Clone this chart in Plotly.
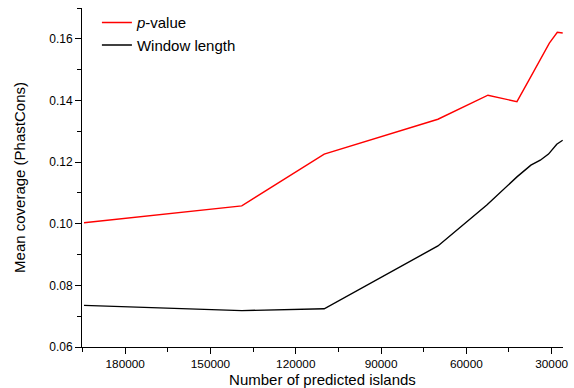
import plotly.graph_objects as go

# Data
x_pvalue = [194500, 139000, 110000, 70000, 52400, 42200, 37500, 30800, 28000, 26100]
y_pvalue = [0.1003, 0.1058, 0.1226, 0.1339, 0.1417, 0.1396, 0.1474, 0.1586, 0.1621, 0.1619]

x_window = [194500, 139000, 110000, 70000, 52800, 42200, 37300, 34000, 31100, 28200, 26100]
y_window = [0.0735, 0.0718, 0.0724, 0.0928, 0.1061, 0.1152, 0.1190, 0.1206, 0.1226, 0.1258, 0.1271]

x_ticks = [180000, 150000, 120000, 90000, 60000, 30000]
y_ticks = [0.06, 0.08, 0.10, 0.12, 0.14, 0.16]

font_family = "Liberation Sans, Arial, Helvetica, sans-serif"

fig = go.Figure()
fig.add_trace(go.Scatter(x=x_pvalue, y=y_pvalue, mode="lines", name="<i>p</i>-value",
                         line=dict(color="#ff0000", width=1.4)))
fig.add_trace(go.Scatter(x=x_window, y=y_window, mode="lines", name="Window length",
                         line=dict(color="#000000", width=1.4)))

fig.update_layout(
    width=574, height=388,
    margin=dict(l=82, r=11, t=7, b=41),
    paper_bgcolor="white", plot_bgcolor="white",
    font=dict(family=font_family, size=12, color="black"),
    showlegend=True,
    legend=dict(x=0.031, y=1.002, xanchor="left", yanchor="top", bgcolor="rgba(0,0,0,0)",
                font=dict(size=15), tracegroupgap=0, itemwidth=30),
)
fig.update_xaxes(
    range=[195200, 26000], tickvals=x_ticks, ticktext=[str(v) for v in x_ticks],
    showline=True, linecolor="black", linewidth=1, showgrid=False, zeroline=False,
    ticks="outside", ticklen=6, tickcolor="black", tickfont=dict(size=11.8),
    minor=dict(dtick=15000, tick0=0, ticks="outside", ticklen=4, tickcolor="black", showgrid=False),
    title=dict(text="Number of predicted islands", font=dict(size=15), standoff=3),
    automargin=False,
)
fig.update_yaxes(
    range=[0.06, 0.17], tickvals=y_ticks, ticktext=[f"{v:.2f}" for v in y_ticks],
    showline=True, linecolor="black", linewidth=1, showgrid=False, zeroline=False,
    ticks="outside", ticklen=6, tickcolor="black", tickfont=dict(size=12),
    minor=dict(dtick=0.01, tick0=0, ticks="outside", ticklen=4, tickcolor="black", showgrid=False),
    title=dict(text="Mean coverage (PhastCons)", font=dict(size=15), standoff=19),
    automargin=False,
)

fig.write_html("out.html", config={"displayModeBar": False},
               post_script="document.body.style.margin='0';")
